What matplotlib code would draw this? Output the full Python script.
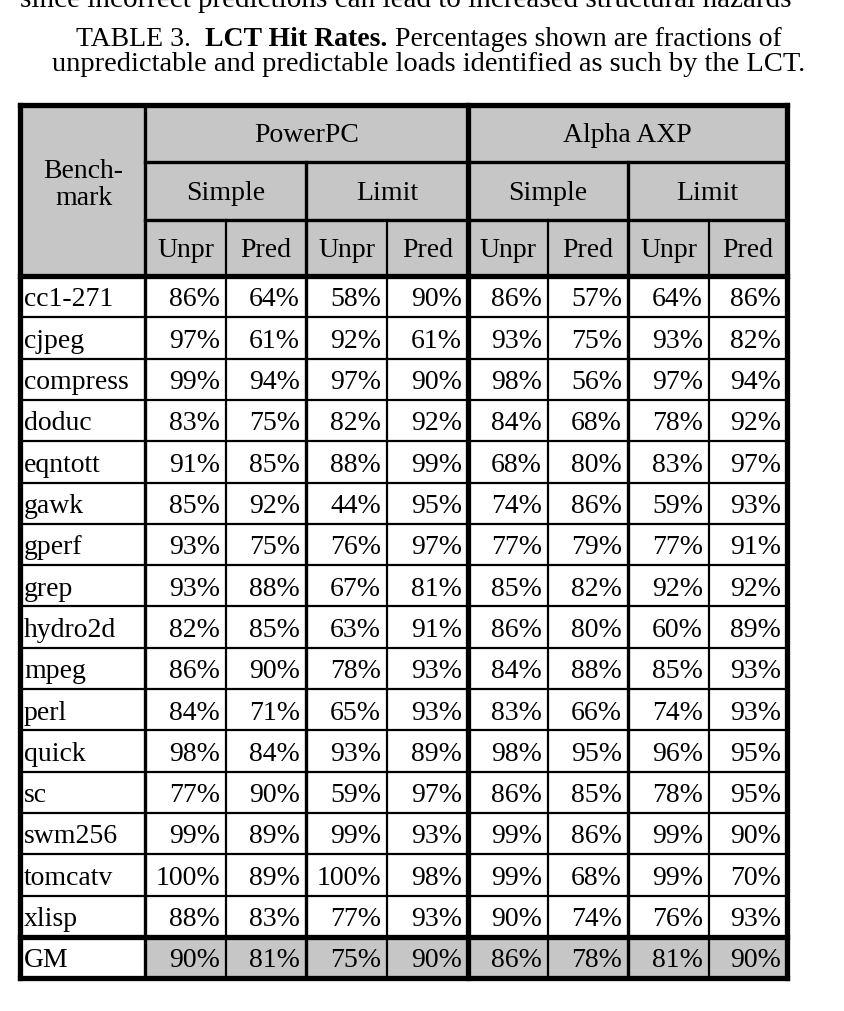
import matplotlib
matplotlib.use("Agg")
import matplotlib.pyplot as plt
from matplotlib.patches import Rectangle

# ---- data ----
benchmarks = ["cc1-271", "cjpeg", "compress", "doduc", "eqntott", "gawk", "gperf",
              "grep", "hydro2d", "mpeg", "perl", "quick", "sc", "swm256", "tomcatv", "xlisp"]
ppc_simple_unpr = [86, 97, 99, 83, 91, 85, 93, 93, 82, 86, 84, 98, 77, 99, 100, 88]
ppc_simple_pred = [64, 61, 94, 75, 85, 92, 75, 88, 85, 90, 71, 84, 90, 89, 89, 83]
ppc_limit_unpr = [58, 92, 97, 82, 88, 44, 76, 67, 63, 78, 65, 93, 59, 99, 100, 77]
ppc_limit_pred = [90, 61, 90, 92, 99, 95, 97, 81, 91, 93, 93, 89, 97, 93, 98, 93]
axp_simple_unpr = [86, 93, 98, 84, 68, 74, 77, 85, 86, 84, 83, 98, 86, 99, 99, 90]
axp_simple_pred = [57, 75, 56, 68, 80, 86, 79, 82, 80, 88, 66, 95, 85, 86, 68, 74]
axp_limit_unpr = [64, 93, 97, 78, 83, 59, 77, 92, 60, 85, 74, 96, 78, 99, 99, 76]
axp_limit_pred = [86, 82, 94, 92, 97, 93, 91, 92, 89, 93, 93, 95, 95, 90, 70, 93]
gm_label = "GM"
gm_values = [90, 81, 75, 90, 86, 78, 81, 90]

machines = ["PowerPC", "Alpha AXP"]
schemes = ["Simple", "Limit"]
kinds = ["Unpr", "Pred"]

title_parts = [("TABLE 3.  ", "normal"), ("LCT Hit Rates.", "bold"),
               (" Percentages shown are fractions of", "normal")]
title_line2 = "unpredictable and predictable loads identified as such by the LCT."
top_text = "since incorrect predictions can lead to increased structural hazards"

# ---- layout ----
W, H = 845, 1011
FONT = "Liberation Serif"
FS = 20
col_edges = [20, 145, 226, 306, 387, 468, 548, 628, 709, 787]
hdr_edges = [105, 162, 220, 276]
row_h = 41.3
gray = "#c6c6c6"
thin = 1.6
mid = 2.4
thick = 3.8

fig = plt.figure(figsize=(W / 100, H / 100), dpi=100)
ax = fig.add_axes([0, 0, 1, 1])
ax.set_xlim(0, W)
ax.set_ylim(H, 0)
ax.axis("off")

# partly visible text from the preceding paragraph (cut at the top edge, as in the scan)
ax.text(20, 7, top_text, family=FONT, fontsize=21, va="baseline", ha="left")

# title line 1 (mixed weights), centered
fig.canvas.draw()
r = fig.canvas.get_renderer()
tfs = 20
widths = []
for s, wgt in title_parts:
    t = ax.text(0, 0, s, family=FONT, fontsize=tfs, weight=wgt)
    bb = t.get_window_extent(renderer=r)
    widths.append(bb.width)
    t.remove()
total = sum(widths)
cx = 429
x = cx - total / 2
for (s, wgt), w in zip(title_parts, widths):
    ax.text(x, 46, s, family=FONT, fontsize=tfs, weight=wgt, va="baseline", ha="left")
    x += w
ax.text(cx, 71, title_line2, family=FONT, fontsize=20.5, va="baseline", ha="center")

n = len(benchmarks)
data_top = hdr_edges[-1]
gm_top = data_top + n * row_h
bottom = gm_top + row_h
L, R = col_edges[0], col_edges[-1]

# header shading
ax.add_patch(Rectangle((L, hdr_edges[0]), R - L, hdr_edges[-1] - hdr_edges[0],
                       facecolor=gray, edgecolor="none", zorder=0))
# GM shading (values only)
ax.add_patch(Rectangle((col_edges[1], gm_top), R - col_edges[1], row_h,
                       facecolor=gray, edgecolor="none", zorder=0))

def hline(y, x0, x1, lw):
    ax.plot([x0, x1], [y, y], color="black", lw=lw, solid_capstyle="projecting", zorder=3)

def vline(x, y0, y1, lw):
    ax.plot([x, x], [y0, y1], color="black", lw=lw, solid_capstyle="projecting", zorder=3)

# horizontal lines
hline(hdr_edges[0], L, R, thick)
hline(hdr_edges[1], col_edges[1], R, mid)
hline(hdr_edges[2], col_edges[1], R, mid)
hline(data_top, L, R, thick)
for i in range(1, n):
    hline(data_top + i * row_h, L, R, thin)
hline(gm_top, L, R, thick)
hline(bottom, L, R, thick)

# vertical lines
vline(L, hdr_edges[0], bottom, thick)
vline(R, hdr_edges[0], bottom, thick)
vline(col_edges[1], hdr_edges[0], bottom, mid)
vline(col_edges[5], hdr_edges[0], bottom, thick)
for k in (3, 7):
    vline(col_edges[k], hdr_edges[1], bottom, mid)
for k in (2, 4, 6, 8):
    vline(col_edges[k], hdr_edges[2], bottom, thin)

# header text (baseline positioned)
def btext(x, y, s):
    ax.text(x, y, s, family=FONT, fontsize=FS, ha="center", va="baseline", zorder=4)

btext((L + col_edges[1]) / 2 + 1, 178, "Bench-")
btext((L + col_edges[1]) / 2 + 1, 205, "mark")
for m, name in enumerate(machines):
    x0, x1 = col_edges[1 + 4 * m], col_edges[5 + 4 * m]
    btext((x0 + x1) / 2, 142, name)
    for s, sname in enumerate(schemes):
        a, b = col_edges[1 + 4 * m + 2 * s], col_edges[3 + 4 * m + 2 * s]
        btext((a + b) / 2, 200, sname)
        for k, kname in enumerate(kinds):
            c0 = col_edges[1 + 4 * m + 2 * s + k]
            c1 = col_edges[2 + 4 * m + 2 * s + k]
            btext((c0 + c1) / 2, 257, kname)

# data
columns = [ppc_simple_unpr, ppc_simple_pred, ppc_limit_unpr, ppc_limit_pred,
           axp_simple_unpr, axp_simple_pred, axp_limit_unpr, axp_limit_pred]
labels = benchmarks + [gm_label]
for i, lab in enumerate(labels):
    yb = data_top + i * row_h + 30.5
    ax.text(L + 4, yb, lab, family=FONT, fontsize=FS, ha="left", va="baseline", zorder=4)
    for j, col in enumerate(columns):
        v = gm_values[j] if i == n else col[i]
        ax.text(col_edges[j + 2] - 6, yb, f"{v}%", family=FONT, fontsize=FS,
                ha="right", va="baseline", zorder=4)

fig.savefig("out.png", dpi=100)
